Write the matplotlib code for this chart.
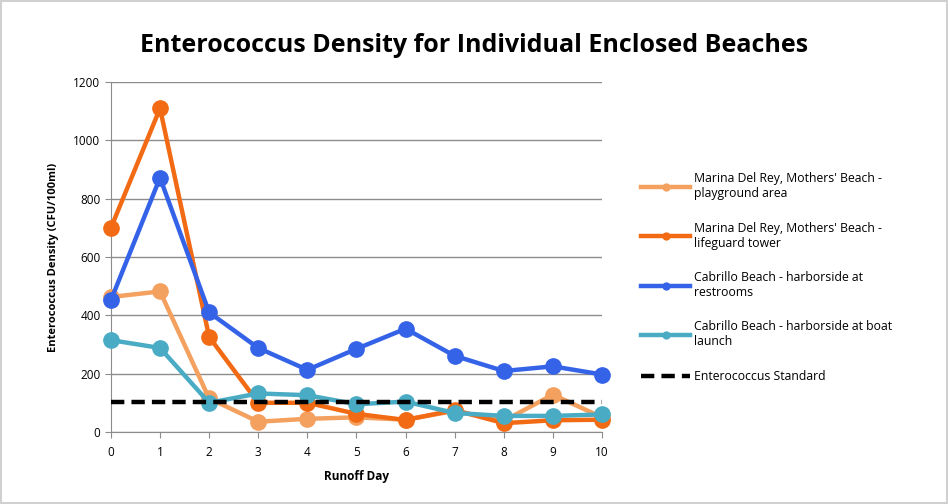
import matplotlib.pyplot as plt
import numpy as np

plt.rcParams['font.family'] = ['Open Sans', 'DejaVu Sans']

days = list(range(11))
playground = [463, 482, 115, 35, 45, 50, 42, 72, 38, 128, 50]
lifeguard = [700, 1110, 326, 100, 100, 62, 41, 75, 30, 40, 42]
restrooms = [452, 872, 410, 288, 213, 285, 354, 261, 209, 225, 197]
boat_launch = [315, 288, 100, 132, 126, 95, 104, 65, 55, 55, 60]
standard = 104

series = [
    ("Marina Del Rey, Mothers' Beach -\nplayground area", playground, '#F4A160'),
    ("Marina Del Rey, Mothers' Beach -\nlifeguard tower", lifeguard, '#F26B14'),
    ("Cabrillo Beach - harborside at\nrestrooms", restrooms, '#3463E8'),
    ("Cabrillo Beach - harborside at boat\nlaunch", boat_launch, '#4AACC4'),
]

fig = plt.figure(figsize=(9.48, 5.04), dpi=100)
fig.patch.set_edgecolor('#d0d0d0')
fig.patch.set_linewidth(1.5)
ax = fig.add_axes([0.117, 0.143, 0.518, 0.694])

for label, vals, color in series:
    ax.plot(days, vals, color=color, lw=3.2, marker='o', ms=11,
            label=label, clip_on=False, zorder=3)
ax.plot([days[0], days[-1]], [standard, standard], color='black', lw=3.2,
        ls=(0, (3, 1.6)), label='Enterococcus Standard', zorder=4)

ax.set_xlim(0, 10)
ax.set_ylim(0, 1200)
ax.set_xticks(days)
ax.set_yticks(np.arange(0, 1201, 200))
ax.yaxis.grid(True, color='#8c8c8c', lw=1)
ax.set_axisbelow(True)
for s in ['top', 'right']:
    ax.spines[s].set_visible(False)
for s in ['left', 'bottom']:
    ax.spines[s].set_color('#8c8c8c')
ax.tick_params(axis='both', labelsize=8.5, color='#8c8c8c', length=4)
ax.tick_params(axis='x', pad=6)

ax.set_xlabel('Runoff Day', fontsize=8.5, fontweight='bold', labelpad=8)
ax.set_ylabel('Enterococcus Density (CFU/100ml)', fontsize=8, fontweight='bold', labelpad=10)
fig.text(0.5, 0.91, 'Enterococcus Density for Individual Enclosed Beaches',
         ha='center', va='center', fontsize=18, fontweight='bold')

leg = ax.legend(loc='upper left', bbox_to_anchor=(0.665, 0.68),
                bbox_transform=fig.transFigure, frameon=False, fontsize=8.8,
                handlelength=4.0, markerscale=0.45, labelspacing=1.75,
                handletextpad=0.3)

fig.savefig('out.png', dpi=100)
